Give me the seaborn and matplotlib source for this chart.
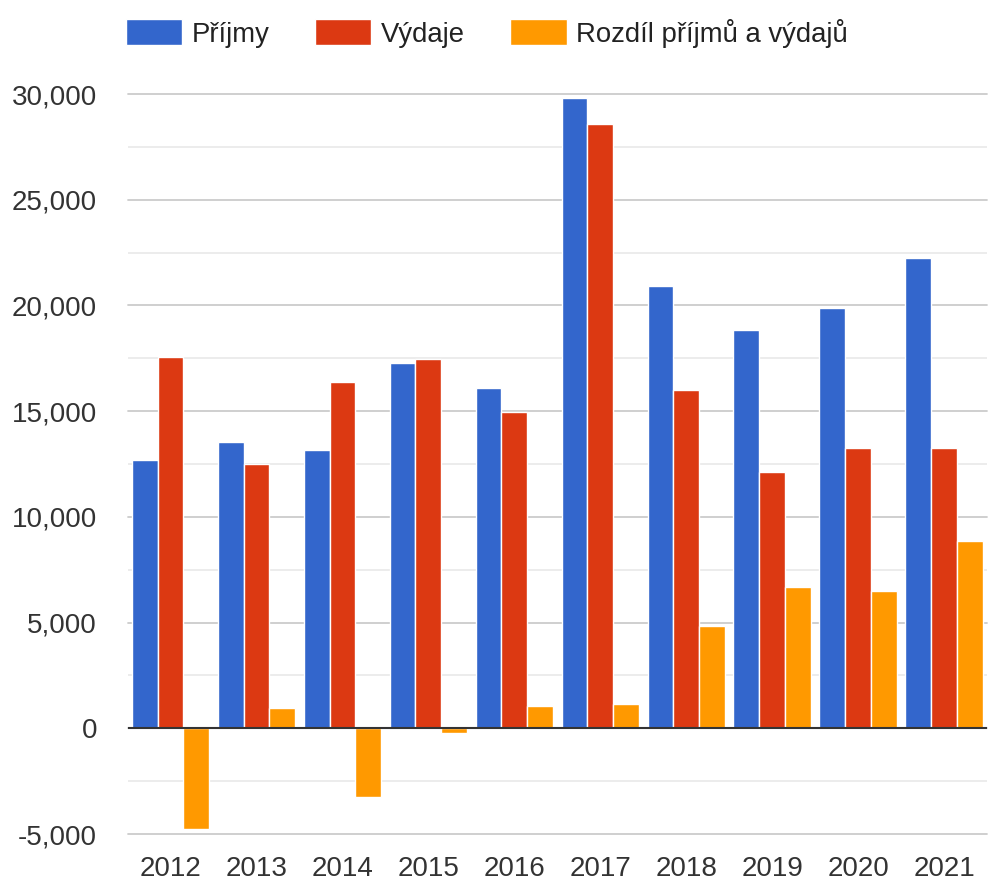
import pandas as pd
import seaborn as sns
import matplotlib.pyplot as plt
from matplotlib.ticker import MultipleLocator, FuncFormatter

sns.set_theme(style='white')
plt.rcParams['font.family'] = ['Liberation Sans', 'DejaVu Sans']

years = ['2012', '2013', '2014', '2015', '2016', '2017', '2018', '2019', '2020', '2021']
prijmy = [12700, 13560, 13170, 17260, 16100, 29830, 20920, 18850, 19900, 22260]
vydaje = [17540, 12510, 16400, 17470, 14980, 28600, 16010, 12140, 13270, 13270]
rozdil = [-4780, 980, -3250, -240, 1060, 1170, 4860, 6660, 6470, 8880]

series = ['Příjmy', 'Výdaje', 'Rozdíl příjmů a výdajů']
colors = ['#3366CC', '#DC3912', '#FF9900']

df = pd.DataFrame({'rok': years, series[0]: prijmy, series[1]: vydaje, series[2]: rozdil})
df = df.melt(id_vars='rok', var_name='rada', value_name='castka')

fig = plt.figure(figsize=(9.89, 8.81), dpi=100)
ax = fig.add_axes([0.129, 1 - 834 / 881, 0.869, 740 / 881])

sns.barplot(data=df, x='rok', y='castka', hue='rada', hue_order=series,
            palette=colors, width=0.9, edgecolor='white', linewidth=1,
            saturation=1, ax=ax)

handles, labels = ax.get_legend_handles_labels()
ax.get_legend().remove()

ax.set_ylim(-5000, 30000)
ax.set_xlim(-0.5, 9.5)
ax.yaxis.set_major_locator(MultipleLocator(5000))
ax.yaxis.set_minor_locator(MultipleLocator(2500))
ax.yaxis.set_major_formatter(FuncFormatter(lambda v, p: f'{int(v):,}'))
ax.grid(which='major', axis='y', color='#cccccc', lw=1.3)
ax.grid(which='minor', axis='y', color='#ebebeb', lw=1.3)
ax.xaxis.grid(False)
ax.set_axisbelow(True)
for ln in ax.get_ygridlines():
    ln.set_clip_on(False)
ax.axhline(0, color='#333333', lw=1.5, zorder=5)

ax.tick_params(which='both', length=0, labelsize=20, colors='#333333')
ax.tick_params(axis='y', pad=22)
ax.tick_params(axis='x', pad=16)
ax.set_xlabel('')
ax.set_ylabel('')
sns.despine(ax=ax, left=True, bottom=True)

fig.legend(handles, labels, loc='center left', bbox_to_anchor=(0.127, 1 - 33 / 881),
           ncol=3, frameon=False, fontsize=19.8, handlelength=2.05, handleheight=1.05,
           handletextpad=0.35, columnspacing=1.65, borderpad=0, borderaxespad=0,
           labelcolor='#222222')

fig.savefig('out.png', dpi=100)
